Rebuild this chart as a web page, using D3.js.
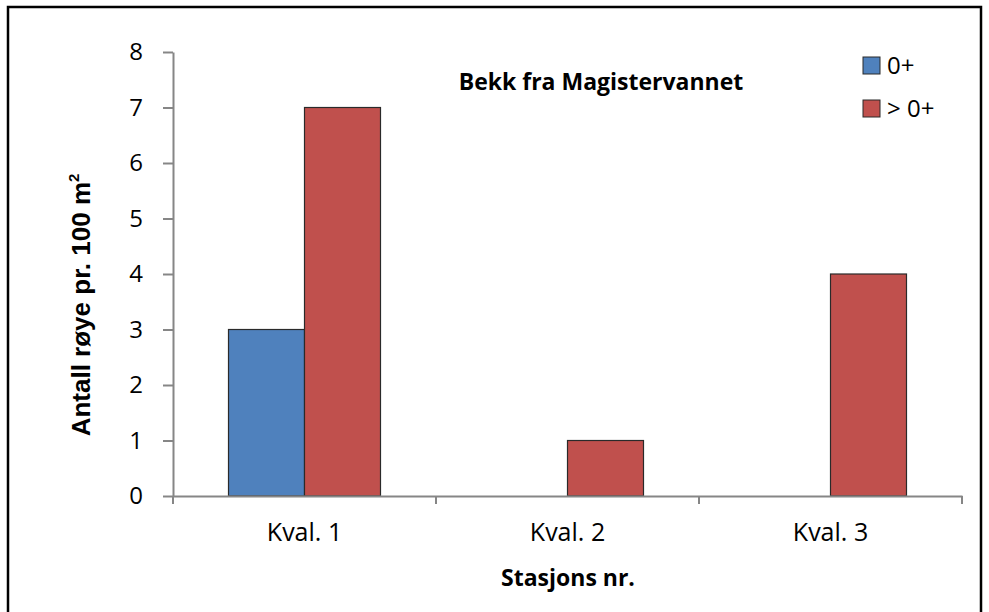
<!DOCTYPE html>
<html>
<head>
<meta charset="utf-8">
<script src="https://cdn.jsdelivr.net/npm/d3@7"></script>
<style>
  html, body { margin: 0; padding: 0; background: #fff; }
  svg { display: block; }
</style>
</head>
<body>
<svg id="chart" width="989" height="612"></svg>
<script>
// Stations and fish counts per 100 m²
const categories = ["Kval. 1", "Kval. 2", "Kval. 3"];
const seriesNames = ["0+", "> 0+"];
const youngFish = [3, 0, 0];      // 0+
const olderFish = [7, 1, 4];      // > 0+
const yTicks = [0, 1, 2, 3, 4, 5, 6, 7, 8];

const colors = ["#4F81BD", "#C0504D"];
const font = "'Open Sans', Lato, sans-serif";
const yTitleFont = "'Liberation Sans', Arial, sans-serif";

const svg = d3.select("#chart");

// outer frame
svg.append("rect")
  .attr("x", 8).attr("y", 7).attr("width", 973).attr("height", 620)
  .attr("fill", "none").attr("stroke", "#000").attr("stroke-width", 2.5);

const plotLeft = 173, plotRight = 962, plotTop = 52, plotBottom = 496;

const x = d3.scaleBand().domain(categories).range([plotLeft, plotRight]).paddingInner(0).paddingOuter(0);
const x1 = d3.scaleBand().domain(seriesNames).range([0, 152]);
const y = d3.scaleLinear().domain([0, 8]).range([plotBottom, plotTop]);

const rows = categories.map((c, i) => ({ cat: c, values: [youngFish[i], olderFish[i]] }));

// bars
const groups = svg.append("g").selectAll("g").data(rows).join("g")
  .attr("transform", d => `translate(${x(d.cat) + (x.bandwidth() - 152) / 2},0)`);

groups.selectAll("rect")
  .data(d => d.values.map((v, j) => ({ v, j })).filter(e => e.v > 0))
  .join("rect")
  .attr("x", e => x1(seriesNames[e.j]))
  .attr("y", e => y(e.v))
  .attr("width", x1.bandwidth())
  .attr("height", e => y(0) - y(e.v))
  .attr("fill", e => colors[e.j])
  .attr("stroke", "#2a2a2a")
  .attr("stroke-width", 1.2);

// y axis
const yAxis = svg.append("g")
  .attr("transform", `translate(${plotLeft},0)`)
  .call(d3.axisLeft(y).tickValues(yTicks).tickSize(10).tickPadding(20).tickSizeOuter(0));
yAxis.select(".domain").attr("stroke", "#868686").attr("stroke-width", 2);
yAxis.selectAll(".tick line").attr("stroke", "#868686").attr("stroke-width", 2);
yAxis.selectAll(".tick text").attr("font-family", font).attr("font-size", 24).attr("fill", "#000");

// x axis
const xAxis = svg.append("g")
  .attr("transform", `translate(0,${plotBottom})`)
  .call(d3.axisBottom(x).tickSize(0).tickPadding(27));
xAxis.select(".domain").attr("stroke", "#868686").attr("stroke-width", 2);
xAxis.selectAll(".tick text").attr("font-family", font).attr("font-size", 25).attr("fill", "#000");

// category separators on x axis
const sepPositions = categories.map(c => x(c)).concat([plotRight]);
svg.append("g").selectAll("line").data(sepPositions).join("line")
  .attr("x1", d => d).attr("x2", d => d)
  .attr("y1", plotBottom).attr("y2", plotBottom + 8)
  .attr("stroke", "#868686").attr("stroke-width", 2);

// title
svg.append("text")
  .attr("x", 601).attr("y", 90)
  .attr("text-anchor", "middle")
  .attr("font-family", font).attr("font-weight", "bold").attr("font-size", 23)
  .text("Bekk fra Magistervannet");

// axis titles
svg.append("text")
  .attr("x", 568).attr("y", 586)
  .attr("text-anchor", "middle")
  .attr("font-family", font).attr("font-weight", "bold").attr("font-size", 23)
  .text("Stasjons nr.");

const yTitle = svg.append("text")
  .attr("transform", "translate(90,305) rotate(-90)")
  .attr("text-anchor", "middle")
  .attr("font-family", yTitleFont).attr("font-weight", "bold").attr("font-size", 26);
yTitle.append("tspan").text("Antall røye pr. 100 m");
yTitle.append("tspan").attr("font-size", 15).attr("dy", -11).text("2");

// legend
const legend = svg.append("g").selectAll("g").data(seriesNames).join("g")
  .attr("transform", (d, i) => `translate(863,${57 + i * 43})`);
legend.append("rect")
  .attr("width", 17).attr("height", 17)
  .attr("fill", (d, i) => colors[i])
  .attr("stroke", "#2a2a2a").attr("stroke-width", 1);
legend.append("text")
  .attr("x", 24).attr("y", 17)
  .attr("font-family", font).attr("font-size", 24)
  .text(d => d);
</script>
</body>
</html>
